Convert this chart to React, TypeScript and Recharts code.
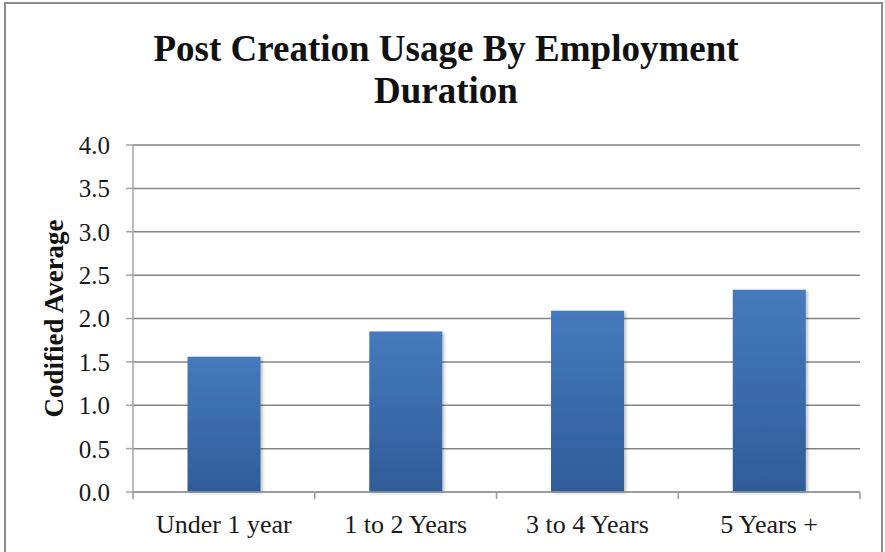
import { BarChart, Bar, XAxis, YAxis, CartesianGrid } from 'recharts';

const categories = ['Under 1 year', '1 to 2 Years', '3 to 4 Years', '5 Years +'];
const averages = [1.56, 1.85, 2.09, 2.33];
const yTicks = [0, 0.5, 1, 1.5, 2, 2.5, 3, 3.5, 4];

const data = categories.map((name, i) => ({ name, value: averages[i] }));

const serif = '"Liberation Serif", "Times New Roman", serif';

// category label with tick marks on the band edges
const CategoryTick = (props: any) => {
  const { x, y, payload, index, width, visibleTicksCount } = props;
  const count = visibleTicksCount || categories.length;
  const half = payload?.offset || (width ? width / count / 2 : 0);
  return (
    <g>
      <line x1={x - half} y1={y} x2={x - half} y2={y + 7} stroke="#9a9a9a" strokeWidth={1.5} />
      {index === count - 1 && (
        <line x1={x + half} y1={y} x2={x + half} y2={y + 7} stroke="#9a9a9a" strokeWidth={1.5} />
      )}
      <text x={x} y={y + 41} textAnchor="middle" fontFamily={serif} fontSize={26} fill="#1a1a1a">
        {payload.value}
      </text>
    </g>
  );
};

const YTitle = (props: any) => {
  const vb = props.viewBox || {};
  const cy = (vb.y ?? 145) + (vb.height ?? 347) / 2;
  const cx = 63;
  return (
    <text
      x={cx}
      y={cy}
      transform={`rotate(-90, ${cx}, ${cy})`}
      textAnchor="middle"
      fontFamily={serif}
      fontWeight="bold"
      fontSize={27}
      fill="#111"
    >
      Codified Average
    </text>
  );
};

const App = () => {
  return (
    <div style={{ position: 'absolute', left: 0, top: 0, width: 885, height: 552, overflow: 'hidden', background: '#fff' }}>
      <div
        style={{
          position: 'absolute',
          left: 4,
          top: 2,
          width: 879,
          height: 600,
          border: '2px solid #8c8c8c',
          boxSizing: 'border-box',
        }}
      />
      <div
        style={{
          position: 'absolute',
          left: 7,
          top: 28,
          width: 878,
          textAlign: 'center',
          fontFamily: serif,
          fontWeight: 'bold',
          fontSize: 37,
          lineHeight: '41.5px',
          color: '#111',
        }}
      >
        Post Creation Usage By Employment
        <br />
        Duration
      </div>
      <div style={{ position: 'absolute', left: 0, top: 0 }}>
        <BarChart width={885} height={552} data={data} margin={{ top: 145, right: 25, bottom: 0, left: 0 }} barCategoryGap="30%">
          <defs>
            <linearGradient id="barFill" x1="0" y1="0" x2="0" y2="1">
              <stop offset="0%" stopColor="#467abd" />
              <stop offset="100%" stopColor="#2f5c9a" />
            </linearGradient>
            <filter id="barShadow" x="-10%" y="-10%" width="130%" height="120%">
              <feDropShadow dx={2} dy={1} stdDeviation={1.5} floodColor="#000" floodOpacity={0.25} />
            </filter>
          </defs>
          <CartesianGrid vertical={false} stroke="#858585" strokeWidth={1.5} />
          <XAxis
            dataKey="name"
            height={60}
            axisLine={{ stroke: '#9a9a9a', strokeWidth: 1.5 }}
            tickLine={false}
            tickSize={0}
            tickMargin={0}
            interval={0}
            tick={<CategoryTick />}
          />
          <YAxis
            width={133}
            domain={[0, 4]}
            ticks={yTicks}
            interval={0}
            tickFormatter={(v: number) => v.toFixed(1)}
            axisLine={{ stroke: '#a5a5a5', strokeWidth: 1.5 }}
            tickLine={{ stroke: '#a5a5a5', strokeWidth: 1.5 }}
            tickSize={7}
            tickMargin={16}
            tick={{ fontFamily: serif, fontSize: 25, fill: '#1a1a1a' }}
            label={<YTitle />}
          />
          <Bar dataKey="value" fill="url(#barFill)" filter="url(#barShadow)" isAnimationActive={false} />
        </BarChart>
      </div>
    </div>
  );
};

export default App;
